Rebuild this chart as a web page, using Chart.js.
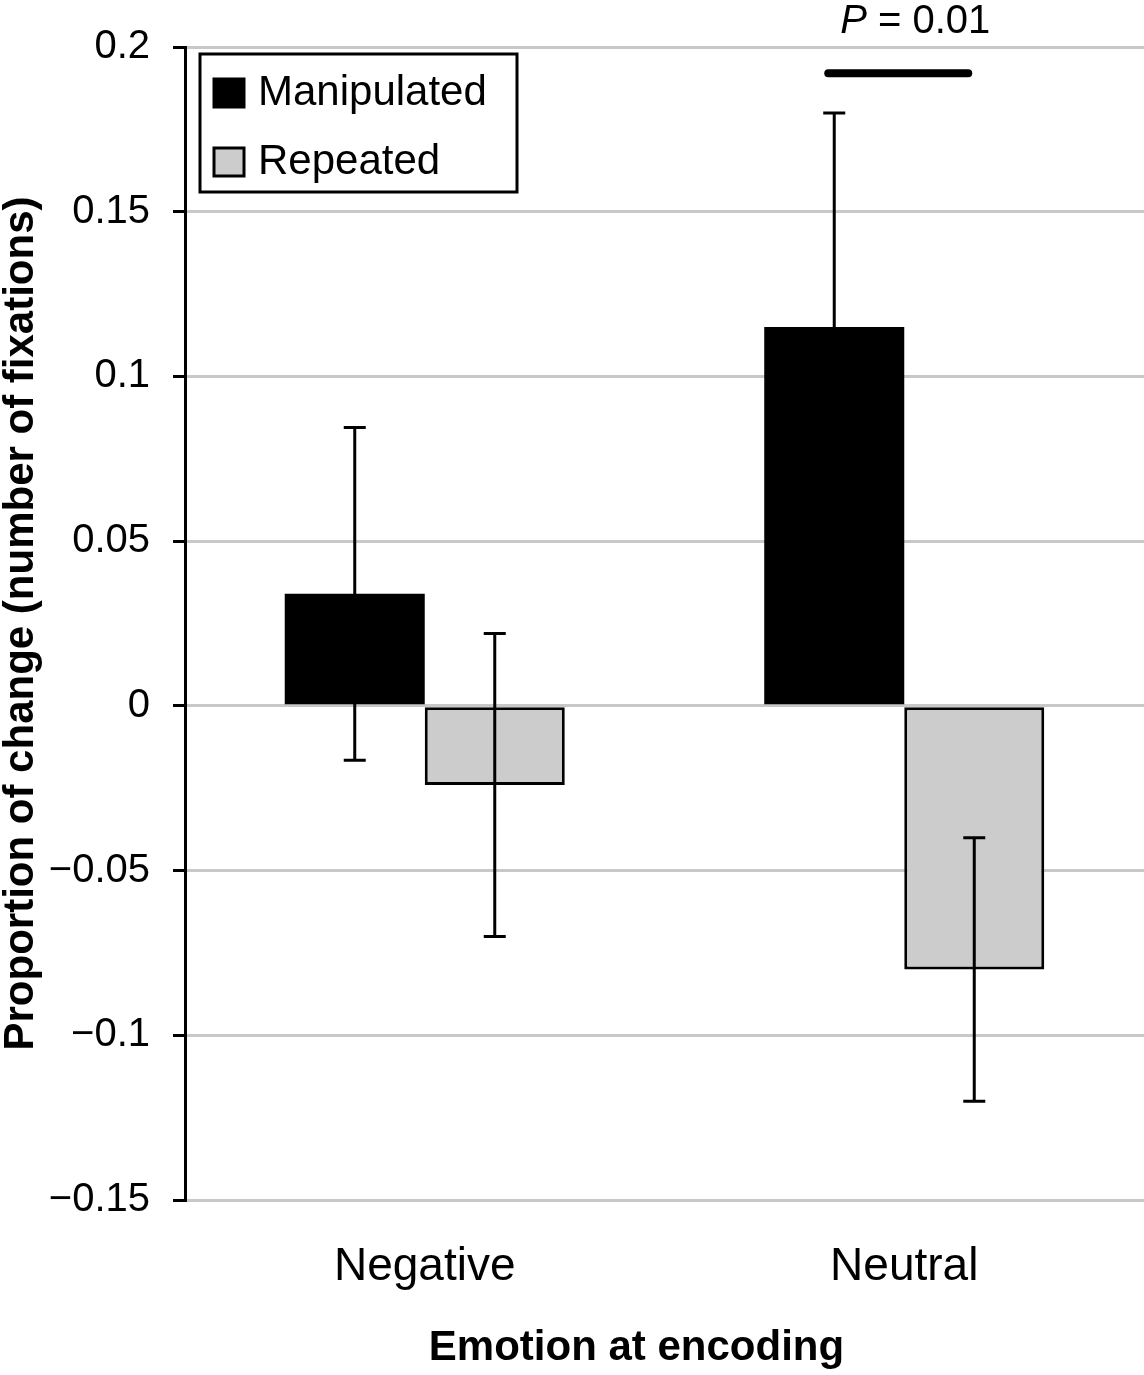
<!DOCTYPE html>
<html>
<head>
<meta charset="utf-8">
<script src="https://cdn.jsdelivr.net/npm/chart.js@4.4.1/dist/chart.umd.min.js"></script>
<style>
  body { margin: 0; background: #fff; }
  canvas { display: block; }
</style>
</head>
<body>
<canvas id="graficoBarras" width="1144" height="1375"></canvas>
<script>
// dados do grafico
const categorias = ["Negative", "Neutral"];
const valoresManipulated = [0.034, 0.115];
const valoresRepeated = [-0.024, -0.080];
const errosManipulated = [0.0505, 0.065];
const errosRepeated = [0.046, 0.040];

// eixo y
const eixoMin = -0.15;
const eixoMax = 0.2;
const eixoPasso = 0.05;

// anotacao de significancia
const textoP = "P";
const textoValorP = " = 0.01";
const valorLinhaP = 0.192;
const valorTextoP = 0.2075;

const tituloY = "Proportion of change (number of fixations)";
const tituloX = "Emotion at encoding";

const fonte = '"Liberation Sans", Arial, sans-serif';
Chart.defaults.font.family = fonte;
Chart.defaults.color = "#000";

// barras de erro em cima das barras
const pluginErros = {
  id: "barrasErro",
  afterDatasetsDraw(chart) {
    const ctx = chart.ctx;
    const escalaY = chart.scales.y;

    chart.data.datasets.forEach((ds, i) => {
      const meta = chart.getDatasetMeta(i);
      meta.data.forEach((barra, j) => {
        const yCima = escalaY.getPixelForValue(ds.data[j] + ds.erros[j]);
        const yBaixo = escalaY.getPixelForValue(ds.data[j] - ds.erros[j]);
        ctx.save();
        ctx.strokeStyle = "#000";
        ctx.lineWidth = 3;
        ctx.beginPath();
        ctx.moveTo(barra.x, yCima);
        ctx.lineTo(barra.x, yBaixo);
        ctx.moveTo(barra.x - 11, yCima);
        ctx.lineTo(barra.x + 11, yCima);
        ctx.moveTo(barra.x - 11, yBaixo);
        ctx.lineTo(barra.x + 11, yBaixo);
        ctx.stroke();
        ctx.restore();
      });
    });
  },
};

// legenda com caixa, titulo x e o P
const pluginExtras = {
  id: "extras",
  afterDraw(chart) {
    const ctx = chart.ctx;
    const area = chart.chartArea;
    const escalaY = chart.scales.y;

    // legenda
    const x0 = area.left + 15;
    const y0 = area.top + 7;
    ctx.save();
    ctx.fillStyle = "#fff";
    ctx.fillRect(x0, y0, 317, 138);
    ctx.strokeStyle = "#000";
    ctx.lineWidth = 3;
    ctx.strokeRect(x0, y0, 317, 138);

    chart.data.datasets.forEach((ds, i) => {
      const cy = y0 + 39 + i * 69;
      ctx.fillStyle = ds.backgroundColor;
      ctx.fillRect(x0 + 14, cy - 14, 30, 28);
      ctx.lineWidth = 3;
      ctx.strokeRect(x0 + 14, cy - 14, 30, 28);
      ctx.fillStyle = "#000";
      ctx.font = "42px " + fonte;
      ctx.textBaseline = "middle";
      ctx.textAlign = "left";
      ctx.fillText(ds.label, x0 + 58, cy);
    });

    // titulo do eixo x
    ctx.font = "bold 42px " + fonte;
    ctx.textAlign = "center";
    ctx.fillText(tituloX, (area.left + area.right) / 2 - 28, 1348);

    // linha do P
    const barraA = chart.getDatasetMeta(0).data[1];
    const barraB = chart.getDatasetMeta(1).data[1];
    const yLinha = escalaY.getPixelForValue(valorLinhaP);
    ctx.lineWidth = 8;
    ctx.lineCap = "round";
    ctx.beginPath();
    ctx.moveTo(barraA.x - 6, yLinha);
    ctx.lineTo(barraB.x - 6, yLinha);
    ctx.stroke();

    // texto P = 0.01
    ctx.textAlign = "left";
    ctx.font = "italic 40px " + fonte;
    const largP = ctx.measureText(textoP).width;
    ctx.font = "40px " + fonte;
    const largResto = ctx.measureText(textoValorP).width;
    const xInicio = (barraA.x + barraB.x) / 2 + 11 - (largP + largResto) / 2;
    const yTexto = escalaY.getPixelForValue(valorTextoP);
    ctx.font = "italic 40px " + fonte;
    ctx.fillText(textoP, xInicio, yTexto);
    ctx.font = "40px " + fonte;
    ctx.fillText(textoValorP, xInicio + largP, yTexto);
    ctx.restore();
  },
};

new Chart(document.getElementById("graficoBarras"), {
  type: "bar",
  data: {
    labels: categorias,
    datasets: [
      {
        label: "Manipulated",
        data: valoresManipulated,
        erros: errosManipulated,
        backgroundColor: "#000000",
        borderColor: "#000000",
        borderWidth: 0,
      },
      {
        label: "Repeated",
        data: valoresRepeated,
        erros: errosRepeated,
        backgroundColor: "#cccccc",
        borderColor: "#000000",
        borderWidth: 3,
        borderSkipped: false,
      },
    ],
  },
  options: {
    responsive: false,
    animation: false,
    devicePixelRatio: 1,
    categoryPercentage: 0.584,
    barPercentage: 1,
    layout: { padding: { top: 43, left: 0, right: 0, bottom: 0 } },
    plugins: {
      legend: { display: false },
      tooltip: { enabled: false },
    },
    scales: {
      x: {
        ticks: { font: { size: 46 }, padding: 40 },
        grid: { display: false, drawTicks: false },
        border: { display: false },
        afterFit: (escala) => {
          escala.height = 175;
        },
      },
      y: {
        min: eixoMin,
        max: eixoMax,
        ticks: {
          stepSize: eixoPasso,
          padding: 23,
          font: { size: 40 },
          callback: (v) => {
            const r = Math.round(v * 100) / 100;
            return r < 0 ? "\u2212" + Math.abs(r) : String(r);
          },
        },
        grid: {
          color: "#c8c8c8",
          lineWidth: 3,
          tickColor: "#000",
          tickWidth: 3,
          tickLength: 12,
        },
        border: { color: "#000", width: 3 },
        title: {
          display: true,
          text: tituloY,
          font: { size: 42, weight: "bold", lineHeight: 1 },
          padding: 0,
        },
        afterFit: (escala) => {
          escala.width = 185;
        },
      },
    },
  },
  plugins: [pluginErros, pluginExtras],
});
</script>
</body>
</html>
